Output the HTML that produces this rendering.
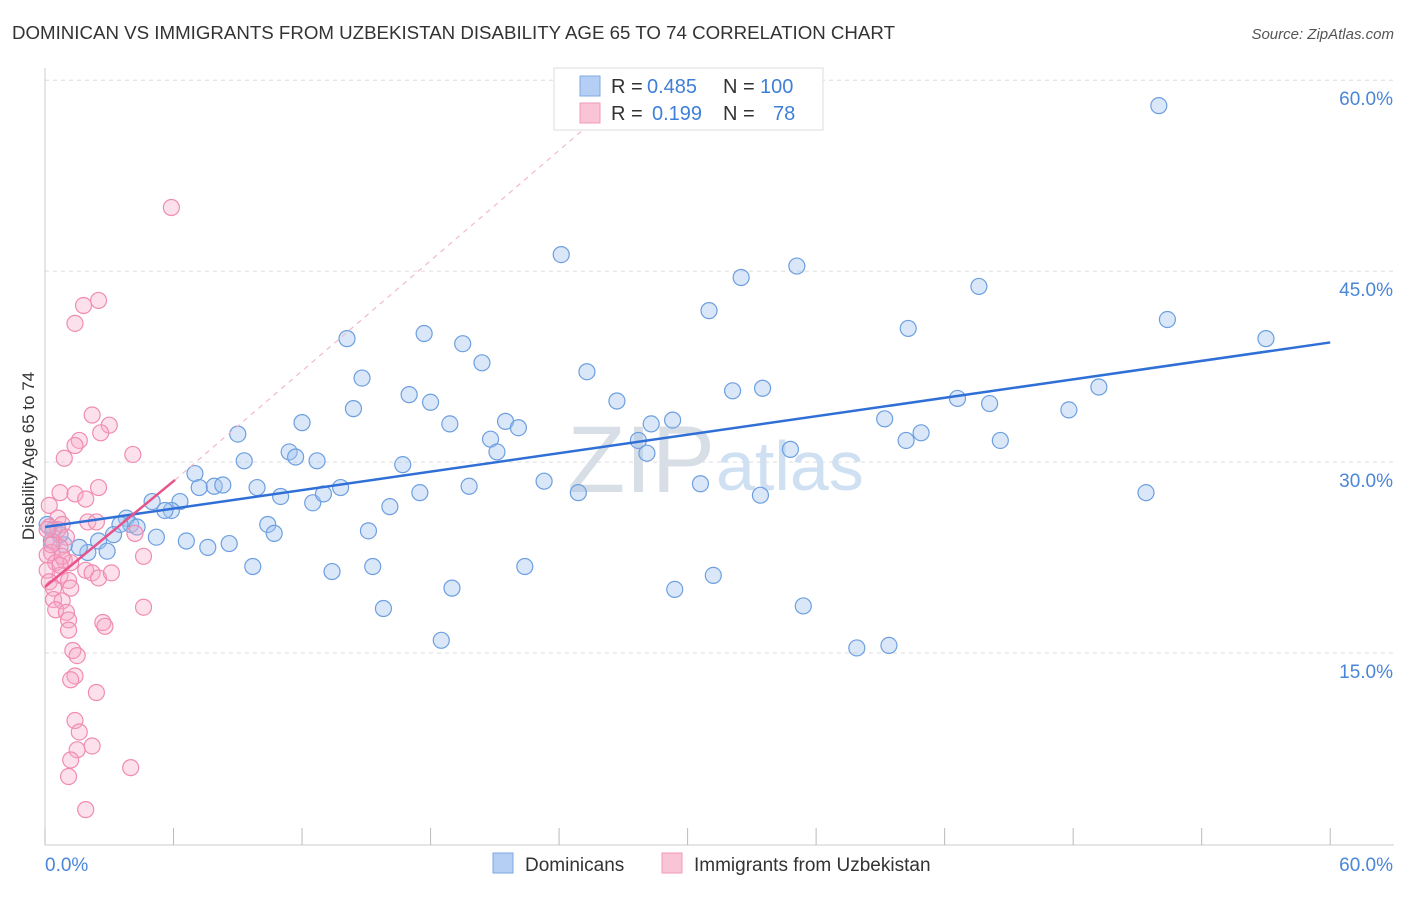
<!DOCTYPE html>
<html><head><meta charset="utf-8"><style>
body{margin:0;background:#fff;font-family:"Liberation Sans",sans-serif;}
svg text{font-family:"Liberation Sans",sans-serif;}
</style></head><body>
<svg id="chart" width="1406" height="892">
<text x="12" y="39" font-size="18" fill="#333" textLength="883" lengthAdjust="spacingAndGlyphs">DOMINICAN VS IMMIGRANTS FROM UZBEKISTAN DISABILITY AGE 65 TO 74 CORRELATION CHART</text>
<text x="1394" y="39" font-size="15" fill="#555" text-anchor="end" font-style="italic">Source: ZipAtlas.com</text>
<text x="34" y="456" font-size="17" fill="#333" text-anchor="middle" transform="rotate(-90 34 456)">Disability Age 65 to 74</text>
<g id="grid"></g><g id="ticks"></g>
<text x="715" y="492" font-size="95" fill="#d8dee5" text-anchor="end" font-family="Liberation Serif">ZIP</text>
<text x="716" y="490" font-size="70" fill="#cfe0f3">atlas</text>
<g id="pts"></g><g id="lines"></g>
<g>
<rect x="554" y="68" width="269" height="62" fill="#fff" stroke="#ddd"/>
<rect x="580" y="76" width="20" height="20" fill="#b4cff3" stroke="#7fa9e0"/>
<rect x="580" y="103" width="20" height="20" fill="#f9c4d6" stroke="#f29ab9"/>
<text x="611" y="93" font-size="20" fill="#333">R =</text>
<text x="647" y="93" font-size="20" fill="#3f7fd8">0.485</text>
<text x="723" y="93" font-size="20" fill="#333">N =</text>
<text x="760" y="93" font-size="20" fill="#3f7fd8">100</text>
<text x="611" y="120" font-size="20" fill="#333">R =</text>
<text x="652" y="120" font-size="20" fill="#3f7fd8">0.199</text>
<text x="723" y="120" font-size="20" fill="#333">N =</text>
<text x="773" y="120" font-size="20" fill="#3f7fd8">78</text>
</g>
<g>
<rect x="493" y="853" width="20" height="20" fill="#b4cff3" stroke="#7fa9e0"/>
<text x="525" y="871" font-size="19" fill="#333">Dominicans</text>
<rect x="662" y="853" width="20" height="20" fill="#f9c4d6" stroke="#f29ab9"/>
<text x="694" y="871" font-size="19" fill="#333">Immigrants from Uzbekistan</text>
</g>
</svg>
<script>
const yTicks=[15,30,45,60];
const xTickLabels=["0.0%","60.0%"];
const blueX=[52.0,24.1,32.5,35.1,43.6,31.0,40.3,52.4,57.0,14.1,17.7,19.5,20.4,14.8,25.3,17.0,18.0,14.4,26.7,32.1,33.5,42.6,44.1,49.2,47.8,18.9,21.5,22.1,20.8,21.1,27.7,28.3,29.3,28.1,39.2,40.9,40.2,44.6,34.8,9.0,12.0,11.4,11.7,12.7,9.3,16.7,7.0,7.9,8.3,7.2,9.9,11.0,12.5,13.0,13.8,17.5,16.1,19.8,23.3,24.9,30.6,33.4,51.4,5.0,6.3,5.9,5.6,3.8,4.0,3.5,4.3,3.2,5.2,6.6,7.6,8.6,10.4,10.7,15.1,2.5,2.9,2.0,1.6,0.9,0.3,0.1,9.7,13.4,15.3,22.4,31.2,29.4,19.0,15.8,35.4,18.5,37.9,39.4,0.4,0.7];
const blueY=[58.0,46.3,44.5,45.4,43.8,41.9,40.5,41.2,39.7,39.7,40.1,39.3,37.8,36.6,37.1,35.3,34.7,34.2,34.8,35.6,35.8,35.0,34.6,35.9,34.1,33.0,33.2,32.7,31.8,30.8,31.7,33.0,33.3,30.7,33.4,32.3,31.7,31.7,31.0,32.2,33.1,30.8,30.4,30.1,30.1,29.8,29.1,28.1,28.2,28.0,28.0,27.3,26.8,27.5,28.0,27.6,26.5,28.1,28.5,27.6,28.3,27.4,27.6,26.9,26.9,26.2,26.2,25.6,25.1,25.1,24.9,24.3,24.1,23.8,23.3,23.6,25.1,24.4,24.6,23.8,23.0,22.9,23.3,23.5,23.8,25.1,21.8,21.4,21.8,21.8,21.1,20.0,20.1,18.5,18.7,16.0,15.4,15.6,24.7,24.3];
const pinkX=[5.9,2.5,1.8,1.4,2.2,3.0,2.6,1.6,1.4,0.9,4.1,2.5,0.7,1.4,1.9,0.2,0.6,2.0,2.4,0.8,0.2,0.6,1.0,0.4,0.7,0.3,0.1,0.9,0.5,1.2,0.1,0.7,1.1,1.9,2.2,2.5,3.1,0.2,0.4,1.2,0.4,0.8,0.5,1.0,1.1,1.1,4.6,4.2,4.6,2.7,2.8,1.3,1.5,1.4,1.2,2.4,1.4,1.6,1.5,1.2,2.2,1.1,4.0,1.9,0.8,0.3,0.1,0.7];
const pinkY=[50.0,42.7,42.3,40.9,33.7,32.9,32.3,31.7,31.3,30.3,30.6,28.0,27.6,27.5,27.1,26.6,25.6,25.3,25.3,25.1,24.9,24.7,24.1,23.7,23.3,22.9,22.7,22.3,22.1,22.1,21.5,21.1,20.7,21.5,21.3,20.9,21.3,20.6,20.1,20.1,19.2,19.1,18.4,18.2,17.6,16.8,22.6,24.4,18.6,17.4,17.1,15.2,14.8,13.2,12.9,11.9,9.7,8.8,7.4,6.6,7.7,5.3,6.0,2.7,22.6,23.5,24.7,21.9];
const blueTrend=[[0,24.9],[60,39.4]];
const pinkTrend=[[0,20.2],[6.07,28.6]];
const pinkDash=[[6.07,28.6],[25.6,56.8]];
const NS="http://www.w3.org/2000/svg";
const X=v=>45+v*21.42, Y=v=>844-v*12.73;
function mk(t,a,p){const e=document.createElementNS(NS,t);for(const k in a)e.setAttribute(k,a[k]);document.getElementById(p).appendChild(e);return e;}
yTicks.forEach(t=>{
 const g=mk('line',{x1:45,x2:1394,y1:Y(t),y2:Y(t),stroke:'#ddd','stroke-dasharray':'4,4'},'grid');
 
 
 const l=mk('text',{x:1393,y:Y(t)+25,'font-size':19,fill:'#4a86d8','text-anchor':'end'},'ticks');
 l.textContent=t.toFixed(1)+'%';
 
 
});
const ax=mk('line',{x1:45,x2:45,y1:68,y2:845,stroke:'#ccc'},'ticks');


const bx=mk('line',{x1:45,x2:1394,y1:845,y2:845,stroke:'#ccc'},'ticks');


for(let i=0;i<=10;i++){const tk=mk('line',{x1:X(i*6),x2:X(i*6),y1:828,y2:845,stroke:'#bbb'},'ticks');
 
 }
[[0,'start',45],[60,'end',1393]].forEach((d,i)=>{const t=mk('text',{x:d[2],y:871,'font-size':19,fill:'#4a86d8','text-anchor':d[1]},'ticks');t.textContent=xTickLabels[i];
 
 });
blueX.forEach((v,i)=>{const c=mk('circle',{cx:X(v),cy:Y(blueY[i]),r:8,fill:'rgba(160,196,240,0.4)',stroke:'#6d9fe0','stroke-width':1.2},'pts');
 
 });
pinkX.forEach((v,i)=>{const c=mk('circle',{cx:X(v),cy:Y(pinkY[i]),r:8,fill:'rgba(246,170,200,0.35)',stroke:'#f08cb0','stroke-width':1.2},'pts');
 
 });
const bl=mk('line',{x1:X(blueTrend[0][0]),y1:Y(blueTrend[0][1]),x2:X(blueTrend[1][0]),y2:Y(blueTrend[1][1]),stroke:'#2f6fd6','stroke-width':2.5},'lines');


const pd=mk('line',{x1:X(pinkDash[0][0]),y1:Y(pinkDash[0][1]),x2:X(pinkDash[1][0]),y2:Y(pinkDash[1][1]),stroke:'#f2b8cc','stroke-width':1.2,'stroke-dasharray':'5,5'},'lines');


const pl=mk('line',{x1:X(pinkTrend[0][0]),y1:Y(pinkTrend[0][1]),x2:X(pinkTrend[1][0]),y2:Y(pinkTrend[1][1]),stroke:'#e8548a','stroke-width':2.5},'lines');


</script>
</body></html>
